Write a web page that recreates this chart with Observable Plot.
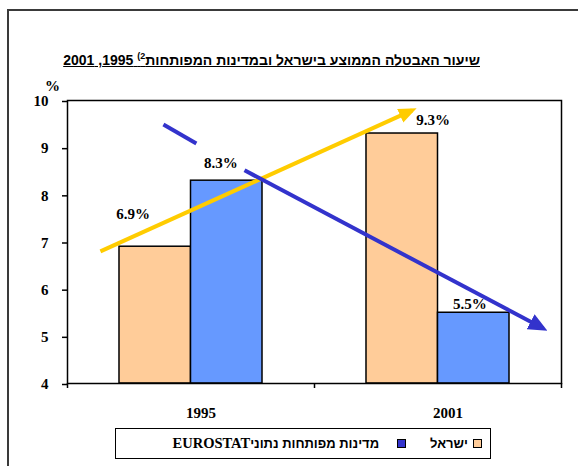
<!DOCTYPE html>
<html>
<head>
<meta charset="utf-8">
<script src="https://cdn.jsdelivr.net/npm/d3@7"></script>
<script src="https://cdn.jsdelivr.net/npm/@observablehq/plot@0.6"></script>
<style>
  html, body { margin: 0; padding: 0; background: #fff; }
  #wrap { position: relative; width: 578px; height: 466px; overflow: hidden; background: #fff; }
  #outer { position: absolute; left: 7px; top: 9px; width: 640px; height: 520px; border-top: 2px solid #3a3a3a; border-left: 2px solid #3a3a3a; }
  #title { position: absolute; right: 98px; top: 52px; direction: rtl; white-space: nowrap;
           font: bold 14px "Liberation Sans", Arial, sans-serif; text-decoration: underline; color: #000; line-height: 17px; }
  #title sup { font-size: 9px; line-height: 0; }
  #pct { position: absolute; left: 45px; top: 78px; font: bold 15px "Liberation Serif", serif; color: #000; }
  #chart { position: absolute; left: 0; top: 70px; }
  #legend { position: absolute; left: 115px; top: 428px; width: 374px; height: 29px; border: 1.5px solid #000;
            direction: rtl; display: flex; align-items: center; font: bold 14px "Liberation Serif", serif; color: #000; white-space: nowrap; }
  .heb { font-family: "Liberation Sans", sans-serif; font-size: 13px; }
  .lat { font-family: "Liberation Serif", serif; font-size: 14.5px; }
  .sw { width: 7px; height: 7px; border: 1px solid #000; display: inline-block; }
</style>
</head>
<body>
<div id="wrap">
  <div id="outer"></div>
  <div id="title">שיעור האבטלה הממוצע בישראל ובמדינות המפותחות<sup>2)</sup> 1995, 2001</div>
  <div id="pct">%</div>
  <div id="chart"></div>
  <div id="legend"></div>
</div>
<script>
// ---- data ----
const years = [1995, 2001];
const seriesNames = ["ישראל", "מדינות מפותחות נתוניEUROSTAT"];
const israelValues = [6.9, 9.3];
const developedValues = [8.3, 5.5];
const valueLabels = ["6.9%", "9.3%", "8.3%", "5.5%"];
const yTicks = [4, 5, 6, 7, 8, 9, 10];
const seriesColors = ["#FFCC99", "#6699FF"];
const legendColors = ["#FFCC99", "#3333CC"];
// trend arrows (data units: year, %)
const israelTrend = [{x1: 1992.8, y1: 6.8, x2: 2000.37, y2: 9.79}];
const developedTrendStart = [{x1: 1994.33, y1: 9.49, x2: 1995.13, y2: 9.09}];
const developedTrend = [{x1: 1996.30, y1: 8.52, x2: 2003.55, y2: 5.17}];

const rows = [];
years.forEach((yr, i) => rows.push({year: yr, series: seriesNames[0], value: israelValues[i], label: valueLabels[i]}));
years.forEach((yr, i) => rows.push({year: yr, series: seriesNames[1], value: developedValues[i], label: valueLabels[2 + i]}));

const barW = 1.737; // bar width in years
const xDomain = [1992, 2004];
const yDomain = [4, 10];

function tri(len, wid) {
  return (color) => {
    const m = d3.create("svg:marker")
      .attr("viewBox", `0 ${-wid / 2} ${len} ${wid}`)
      .attr("markerUnits", "userSpaceOnUse")
      .attr("markerWidth", len)
      .attr("markerHeight", wid)
      .attr("refX", len - 5)
      .attr("refY", 0)
      .attr("orient", "auto");
    m.append("path").attr("d", `M0,${-wid / 2}L${len},0L0,${wid / 2}Z`).attr("fill", color).attr("stroke", "none");
    return m.node();
  };
}

const lbl = (i, dx, dy) => Plot.text([rows[i]], {
  x: d => d.series === seriesNames[0] ? d.year - barW / 2 : d.year + barW / 2,
  y: "value", text: "label", dx, dy,
  fontSize: 15, fontWeight: "bold", fontFamily: "Liberation Serif", fill: "#000"
});

const chart = Plot.plot({
  width: 578,
  height: 360,
  marginLeft: 67,
  marginRight: 17,
  marginTop: 30,
  marginBottom: 47,
  style: {fontFamily: "Liberation Serif", fontSize: "15px", fontWeight: "bold", color: "#000", background: "transparent"},
  x: {domain: xDomain, axis: null},
  y: {domain: yDomain, axis: null},
  marks: [
    Plot.rectY(rows, {
      x1: d => d.series === seriesNames[0] ? d.year - barW : d.year,
      x2: d => d.series === seriesNames[0] ? d.year : d.year + barW,
      y1: () => yDomain[0],
      y2: "value",
      fill: d => seriesColors[seriesNames.indexOf(d.series)],
      stroke: "#000", strokeWidth: 1.5
    }),
    Plot.frame({stroke: "#000", strokeWidth: 1.5}),
    Plot.axisY(yTicks, {tickSize: 5, tickPadding: 14, label: null, fontSize: 15, fontWeight: "bold", strokeWidth: 1.5, dy: 1}),
    Plot.axisX([1992, 1998, 2004], {tickSize: 5, tickFormat: () => "", label: null, strokeWidth: 1.5}),
    Plot.axisX(years, {tickSize: 0, tickPadding: 24, tickFormat: d => String(d), label: null, dx: 10, fontSize: 15, fontWeight: "bold"}),
    Plot.link(israelTrend, {x1: "x1", y1: "y1", x2: "x2", y2: "y2", stroke: "#FFCC00", strokeWidth: 4, markerEnd: tri(18, 15)}),
    Plot.link(developedTrendStart, {x1: "x1", y1: "y1", x2: "x2", y2: "y2", stroke: "#3333CC", strokeWidth: 4}),
    Plot.link(developedTrend, {x1: "x1", y1: "y1", x2: "x2", y2: "y2", stroke: "#3333CC", strokeWidth: 4, markerEnd: tri(19, 17)}),
    lbl(0, -22, -33),
    lbl(1, 31, -13),
    lbl(2, -6, -17),
    lbl(3, -4, -9)
  ]
});
document.getElementById("chart").appendChild(chart);

// legend
const leg = document.getElementById("legend");
seriesNames.forEach((name, i) => {
  const sw = document.createElement("span");
  sw.className = "sw";
  sw.style.background = legendColors[i];
  sw.style.marginRight = i === 0 ? "8px" : "0px";
  sw.style.marginLeft = i === 0 ? "5px" : "18px";
  leg.appendChild(sw);
  const t = document.createElement("span");
  t.style.marginLeft = i === 0 ? "24px" : "0";
  // split Hebrew and Latin runs so each uses a bold face that has its glyphs
  const parts = name.match(/[A-Za-z]+|[^A-Za-z]+/g);
  parts.forEach(p => {
    const s = document.createElement("span");
    s.className = /[A-Za-z]/.test(p) ? "lat" : "heb";
    s.textContent = p;
    t.appendChild(s);
  });
  leg.appendChild(t);
});
</script>
</body>
</html>
